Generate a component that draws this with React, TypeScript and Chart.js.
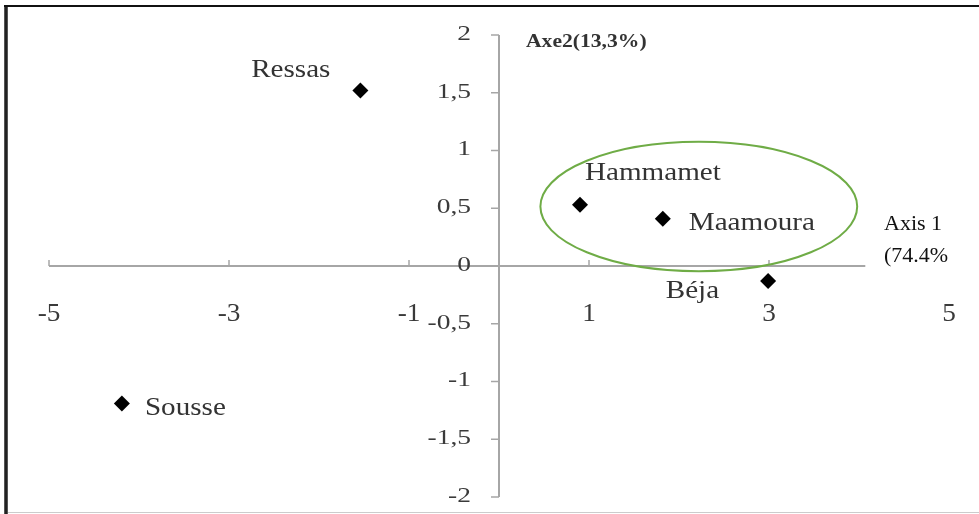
import React, { useEffect, useRef } from "react";
import { Chart, registerables } from "chart.js";

Chart.register(...registerables);

// ---- data ----
const places = ["Ressas", "Hammamet", "Maamoura", "Béja", "Sousse"];
const axis1Values = [-1.54, 0.9, 1.82, 2.99, -4.19];
const axis2Values = [1.52, 0.53, 0.41, -0.13, -1.19];
const xTickValues = [-5, -3, -1, 1, 3, 5];
const yTickValues = [2, 1.5, 1, 0.5, 0, -0.5, -1, -1.5, -2];
const xAxisEndValue = 4.07;
const ellipseCenter = [2.22, 0.515];
const ellipseRadii = [1.76, 0.56];
const axis1Title = ["Axis 1", "(74.4%"];
const axis2Title = "Axe2(13,3%)";

// ---- label placement (pixels relative to point) ----
const labelPlacement: { [k: string]: { dx: number; dy: number; align: CanvasTextAlign } } = {
  Ressas: { dx: -30, dy: -13, align: "right" },
  Hammamet: { dx: 5, dy: -25, align: "left" },
  Maamoura: { dx: 26, dy: 11, align: "left" },
  "Béja": { dx: -49, dy: 17, align: "right" },
  Sousse: { dx: 23, dy: 12, align: "left" },
};

const fmt = (v: number) => String(v).replace(".", ",");

function drawText(
  ctx: CanvasRenderingContext2D,
  text: string,
  x: number,
  y: number,
  font: string,
  color: string,
  align: CanvasTextAlign,
  baseline: CanvasTextBaseline,
  sx: number
) {
  ctx.save();
  ctx.translate(x, y);
  ctx.scale(sx, 1);
  ctx.font = font;
  ctx.fillStyle = color;
  ctx.textAlign = align;
  ctx.textBaseline = baseline;
  ctx.fillText(text, 0, 0);
  ctx.restore();
}

const framePlugin = {
  id: "frame",
  beforeDraw(chart: any) {
    const ctx = chart.ctx as CanvasRenderingContext2D;
    ctx.save();
    ctx.fillStyle = "#ffffff";
    ctx.fillRect(0, 0, chart.width, chart.height);
    ctx.fillStyle = "#555555";
    ctx.fillRect(4, 5, 4, chart.height - 5);
    ctx.fillStyle = "#222222";
    ctx.fillRect(5, 5, 2, chart.height - 5);
    ctx.fillStyle = "#111111";
    ctx.fillRect(4, 5, chart.width - 4, 2);
    ctx.fillStyle = "#cccccc";
    ctx.fillRect(8, chart.height - 2, chart.width - 8, 1);
    ctx.restore();
  },
  beforeDatasetsDraw(chart: any) {
    const ctx = chart.ctx as CanvasRenderingContext2D;
    const xs = chart.scales.x;
    const ys = chart.scales.y;
    const x0 = xs.getPixelForValue(0);
    const y0 = ys.getPixelForValue(0);
    ctx.save();
    ctx.strokeStyle = "#a6a6a6";
    ctx.lineWidth = 2;
    // x axis
    ctx.beginPath();
    ctx.moveTo(xs.getPixelForValue(xTickValues[0]), y0);
    ctx.lineTo(xs.getPixelForValue(xAxisEndValue), y0);
    ctx.stroke();
    ctx.lineWidth = 1.5;
    xTickValues.forEach((v) => {
      if (v > xAxisEndValue) return;
      const px = xs.getPixelForValue(v);
      ctx.beginPath();
      ctx.moveTo(px, y0);
      ctx.lineTo(px, y0 - 6);
      ctx.stroke();
    });
    // y axis
    ctx.lineWidth = 2;
    ctx.beginPath();
    ctx.moveTo(x0, ys.getPixelForValue(yTickValues[0]));
    ctx.lineTo(x0, ys.getPixelForValue(yTickValues[yTickValues.length - 1]));
    ctx.stroke();
    ctx.lineWidth = 1.5;
    yTickValues.forEach((v) => {
      const py = ys.getPixelForValue(v);
      ctx.beginPath();
      ctx.moveTo(x0 - 8, py);
      ctx.lineTo(x0, py);
      ctx.stroke();
    });
    ctx.restore();

    // tick labels
    xTickValues.forEach((v) => {
      drawText(ctx, String(v), xs.getPixelForValue(v), y0 + 55, "26px 'Liberation Serif'", "#3a3a3a", "center", "alphabetic", 1.05);
    });
    yTickValues.forEach((v) => {
      drawText(ctx, fmt(v), x0 - 28, ys.getPixelForValue(v) - 1, "22px 'Liberation Serif'", "#3a3a3a", "right", "middle", 1.25);
    });

    // axis titles
    drawText(ctx, axis2Title, x0 + 27, ys.getPixelForValue(2) + 12, "bold 18px 'Liberation Serif'", "#333333", "left", "alphabetic", 1.2);
    drawText(ctx, axis1Title[0], 884, 230, "22px 'Liberation Serif'", "#111111", "left", "alphabetic", 1);
    drawText(ctx, axis1Title[1], 884, 262, "22px 'Liberation Serif'", "#111111", "left", "alphabetic", 1);

    // ellipse
    ctx.save();
    const cx = xs.getPixelForValue(ellipseCenter[0]);
    const cy = ys.getPixelForValue(ellipseCenter[1]);
    const rx = Math.abs(xs.getPixelForValue(ellipseCenter[0] + ellipseRadii[0]) - cx);
    const ry = Math.abs(ys.getPixelForValue(ellipseCenter[1] + ellipseRadii[1]) - cy);
    ctx.strokeStyle = "#6fac46";
    ctx.lineWidth = 2;
    ctx.beginPath();
    ctx.ellipse(cx, cy, rx, ry, 0, 0, Math.PI * 2);
    ctx.stroke();
    ctx.restore();
  },
  afterDatasetsDraw(chart: any) {
    const ctx = chart.ctx as CanvasRenderingContext2D;
    const meta = chart.getDatasetMeta(0);
    meta.data.forEach((pt: any, i: number) => {
      const name = places[i];
      const p = labelPlacement[name];
      drawText(ctx, name, pt.x + p.dx, pt.y + p.dy, "26px 'Liberation Serif'", "#333333", p.align, "alphabetic", 1.12);
    });
  },
};

export default function App() {
  const ref = useRef<HTMLCanvasElement | null>(null);
  useEffect(() => {
    document.body.style.margin = "0";
    const canvas = ref.current;
    if (!canvas) return;
    const chart = new Chart(canvas, {
      type: "scatter",
      data: {
        datasets: [
          {
            data: axis1Values.map((x, i) => ({ x, y: axis2Values[i] })),
            pointStyle: "rectRot",
            pointRadius: 8,
            pointHoverRadius: 8,
            backgroundColor: "#000000",
            borderColor: "#000000",
            borderWidth: 0,
          },
        ],
      },
      options: {
        animation: false,
        responsive: false,
        maintainAspectRatio: false,
        layout: { padding: { left: 49, right: 30, top: 35, bottom: 17 } },
        plugins: { legend: { display: false }, tooltip: { enabled: false } },
        scales: {
          x: { type: "linear", min: -5, max: 5, display: false },
          y: { type: "linear", min: -2, max: 2, display: false },
        },
      },
      plugins: [framePlugin],
    });
    return () => chart.destroy();
  }, []);
  return (
    <div style={{ position: "absolute", left: 0, top: 0, width: 979, height: 514 }}>
      <canvas ref={ref} width={979} height={514} style={{ width: 979, height: 514, display: "block" }} />
    </div>
  );
}
